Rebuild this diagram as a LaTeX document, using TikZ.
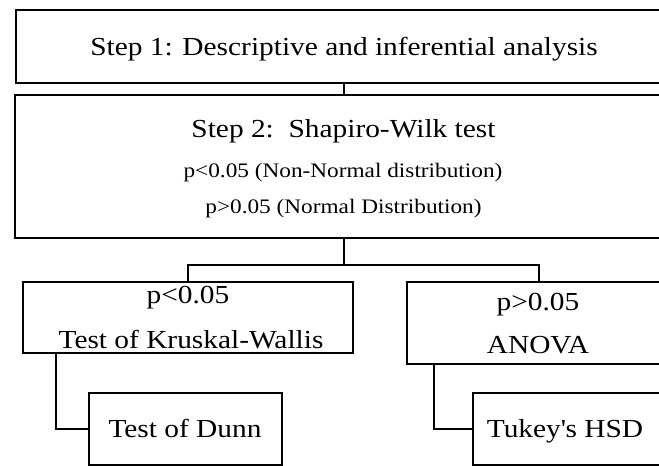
\documentclass[tikz,border=0pt]{standalone}
\usepackage{fontspec}
\setmainfont{Liberation Serif}[FakeStretch=1.13]
\tikzset{
  box/.style={draw, line width=2.7pt, rectangle, inner sep=0pt, outer sep=0pt},
  conn/.style={line width=2.4pt},
  bigtxt/.style={font=\fontsize{26}{30}\selectfont, inner sep=0pt, anchor=base},
  smalltxt/.style={font=\fontsize{20.6}{24}\selectfont, inner sep=0pt, anchor=base}
}
\begin{document}
\begin{tikzpicture}[x=1pt,y=-1pt]
\useasboundingbox (0,0) rectangle (659,466);
\clip (0,0) rectangle (659,466);
% boxes
\node[box, minimum width=656pt, minimum height=73pt] (b1) at (344,46.5) {};
\node[box, minimum width=658pt, minimum height=143pt] (b2) at (344,166.5) {};
\node[box, minimum width=330pt, minimum height=71pt] (b3) at (188,317.5) {};
\node[box, minimum width=264pt, minimum height=82pt] (b4) at (539,323) {};
\node[box, minimum width=193pt, minimum height=72pt] (b5) at (185.5,429) {};
\node[box, minimum width=197pt, minimum height=72pt] (b6) at (571.5,429) {};
% texts
\node[bigtxt] (t1) at (344,55) {Step 1: Descriptive and inferential analysis};
\node[bigtxt] (t2) at (343.5,137) {Step 2:\ \ Shapiro-Wilk test};
\node[smalltxt] (t3) at (343,177) {p<0.05 (Non-Normal distribution)};
\node[smalltxt] (t4) at (343.5,213) {p>0.05 (Normal Distribution)};
\node[bigtxt] (t5) at (188,303) {p<0.05};
\node[bigtxt] (t6) at (191,348) {Test of Kruskal-Wallis};
\node[bigtxt] (t7) at (538,310) {p>0.05};
\node[bigtxt] (t8) at (538,353) {ANOVA};
\node[bigtxt] (t9) at (185,437) {Test of Dunn};
\node[bigtxt] (t10) at (565,437) {Tukey\textquotesingle s HSD};
% connectors
\coordinate (jm) at (344,265);
\coordinate (jl) at (188,265);
\coordinate (jr) at (539,265);
\draw[conn] (b1.south) -- (b2.north);
\draw[conn] (b2.south) -- (jm);
\draw[conn] (b3.north) -- (jl) -- (jr) -- (b4.north);
\draw[conn] (b3.south west) ++(33,0) |- (b5.west);
\draw[conn] (b4.south west) ++(27,0) |- (b6.west);
\end{tikzpicture}
\end{document}
